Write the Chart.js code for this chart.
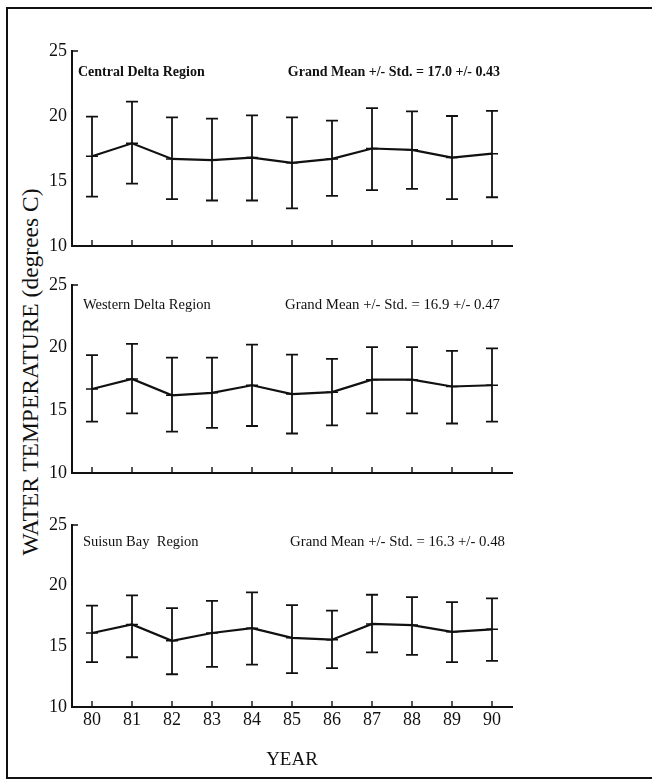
<!DOCTYPE html>
<html>
<head>
<meta charset="utf-8">
<script src="https://cdn.jsdelivr.net/npm/chart.js@4"></script>
<style>
	body { margin: 0; background: #fff; }
	#page { position: relative; width: 652px; height: 784px; overflow: hidden; background: #fff; }
	#page canvas { position: absolute; left: 0; top: 0; }
	#frame { position: absolute; left: 6px; top: 7px; width: 660px; height: 768px;
		border-left: 2px solid #111; border-top: 2px solid #111; border-bottom: 2px solid #111; }
	#ytitle { position: absolute; left: 30px; top: 372px; transform: translate(-50%, -50%) rotate(-90deg);
		font-family: "Liberation Serif", serif; font-size: 23.5px; color: #111; white-space: nowrap; }
</style>
</head>
<body>
<div id="page">
	<div id="frame"></div>
	<div id="ytitle">WATER TEMPERATURE  (degrees C)</div>
	<canvas id="central" width="652" height="784"></canvas>
	<canvas id="western" width="652" height="784"></canvas>
	<canvas id="suisun" width="652" height="784"></canvas>
</div>
<script>
// years on the bottom axis
const years = ['80', '81', '82', '83', '84', '85', '86', '87', '88', '89', '90'];
// annual mean water temperature and mean +/- std for each region
const centralMean = [16.9, 17.9, 16.7, 16.6, 16.8, 16.4, 16.7, 17.5, 17.4, 16.8, 17.1];
const centralHigh = [19.95, 21.1, 19.9, 19.8, 20.05, 19.9, 19.65, 20.6, 20.35, 20.0, 20.4];
const centralLow = [13.8, 14.8, 13.6, 13.5, 13.5, 12.9, 13.85, 14.3, 14.4, 13.6, 13.75];
const westernMean = [16.7, 17.5, 16.2, 16.4, 17.0, 16.3, 16.45, 17.45, 17.45, 16.9, 17.0];
const westernHigh = [19.4, 20.3, 19.2, 19.2, 20.25, 19.45, 19.1, 20.05, 20.05, 19.75, 19.95];
const westernLow = [14.1, 14.75, 13.3, 13.6, 13.75, 13.15, 13.8, 14.75, 14.75, 13.95, 14.1];
const suisunMean = [16.1, 16.8, 15.45, 16.1, 16.5, 15.7, 15.55, 16.85, 16.75, 16.2, 16.4];
const suisunHigh = [18.35, 19.2, 18.15, 18.75, 19.45, 18.4, 17.95, 19.25, 19.05, 18.65, 18.95];
const suisunLow = [13.7, 14.1, 12.7, 13.3, 13.5, 12.8, 13.2, 14.5, 14.3, 13.7, 13.8];
// y axis range
const yMin = 10, yMax = 25, yStep = 5;

Chart.defaults.font.family = '"Liberation Serif", serif';
Chart.defaults.color = '#111';

const ink = '#111';

// std bars, inward ticks and the two captions of a panel
const panelDecor = {
	id: 'panelDecor',
	afterDatasetsDraw(chart, args, opts) {
		const ctx = chart.ctx;
		const x = chart.scales.x, y = chart.scales.y;
		const area = chart.chartArea;
		ctx.save();
		ctx.strokeStyle = ink;
		ctx.lineWidth = 1.8;
		ctx.beginPath();
		for (let i = 0; i < opts.high.length; i++) {
			const px = x.getPixelForValue(i);
			const top = y.getPixelForValue(opts.high[i]);
			const bot = y.getPixelForValue(opts.low[i]);
			ctx.moveTo(px, top); ctx.lineTo(px, bot);
			ctx.moveTo(px - 6, top); ctx.lineTo(px + 6, top);
			ctx.moveTo(px - 6, bot); ctx.lineTo(px + 6, bot);
		}
		ctx.stroke();
		ctx.lineWidth = 1.4;
		ctx.beginPath();
		for (let i = 0; i < years.length; i++) {
			const px = x.getPixelForValue(i);
			ctx.moveTo(px, area.bottom); ctx.lineTo(px, area.bottom - 6);
		}
		ctx.moveTo(area.left, area.top); ctx.lineTo(area.left + 6, area.top);
		ctx.stroke();
		ctx.fillStyle = ink;
		ctx.textBaseline = 'middle';
		ctx.textAlign = 'left';
		ctx.font = opts.font;
		ctx.fillText(opts.name, opts.nameX, opts.textY);
		ctx.textAlign = 'right';
		ctx.font = opts.statsFont;
		ctx.fillText(opts.stats, opts.statsX, opts.textY);
		ctx.restore();
	}
};

function makePanel(id, mean, high, low, text, top, bottom, showYears) {
	return new Chart(document.getElementById(id), {
		type: 'line',
		data: {
			labels: years,
			datasets: [{
				data: mean,
				borderColor: ink,
				borderWidth: 2.2,
				tension: 0,
				fill: false,
				pointStyle: 'line',
				pointRadius: 6,
				pointBorderWidth: 1.5,
				pointBorderColor: ink
			}]
		},
		options: {
			responsive: false,
			animation: false,
			devicePixelRatio: 1,
			layout: {
				padding: { left: 40, right: 140, top: top, bottom: showYears ? 9 : 784 - bottom }
			},
			plugins: {
				legend: { display: false },
				tooltip: { enabled: false },
				panelDecor: Object.assign({ high: high, low: low }, text)
			},
			scales: {
				x: {
					type: 'category',
					offset: true,
					grid: { display: false, drawTicks: false },
					border: { display: true, color: ink, width: 2 },
					ticks: { display: showYears, padding: 2, font: { size: 18 }, color: ink },
					title: {
						display: showYears,
						text: 'YEAR',
						font: { size: 19 },
						color: ink,
						padding: { top: 0, bottom: 4 }
					},
					afterFit: (s) => { s.height = showYears ? 68 : 0; }
				},
				y: {
					min: yMin,
					max: yMax,
					grid: { display: false, drawTicks: false },
					border: { display: true, color: ink, width: 2 },
					ticks: { stepSize: yStep, padding: 5, font: { size: 18 }, color: ink },
					afterFit: (s) => { s.width = 32; }
				}
			}
		},
		plugins: [panelDecor]
	});
}

makePanel('central', centralMean, centralHigh, centralLow, {
	name: 'Central Delta Region',
	stats: 'Grand Mean +/- Std. = 17.0 +/- 0.43',
	font: 'bold 14px "Liberation Serif"',
	statsFont: 'bold 14px "Liberation Serif"',
	nameX: 78, statsX: 500, textY: 72
}, 51, 246, false);

makePanel('western', westernMean, westernHigh, westernLow, {
	name: 'Western Delta Region',
	stats: 'Grand Mean +/- Std. = 16.9 +/- 0.47',
	font: '14.5px "Liberation Serif"',
	statsFont: '14.8px "Liberation Serif"',
	nameX: 83, statsX: 500, textY: 305
}, 285, 473, false);

makePanel('suisun', suisunMean, suisunHigh, suisunLow, {
	name: 'Suisun Bay  Region',
	stats: 'Grand Mean +/- Std. = 16.3 +/- 0.48',
	font: '14.5px "Liberation Serif"',
	statsFont: '14.8px "Liberation Serif"',
	nameX: 83, statsX: 505, textY: 542
}, 525, 707, true);
</script>
</body>
</html>
